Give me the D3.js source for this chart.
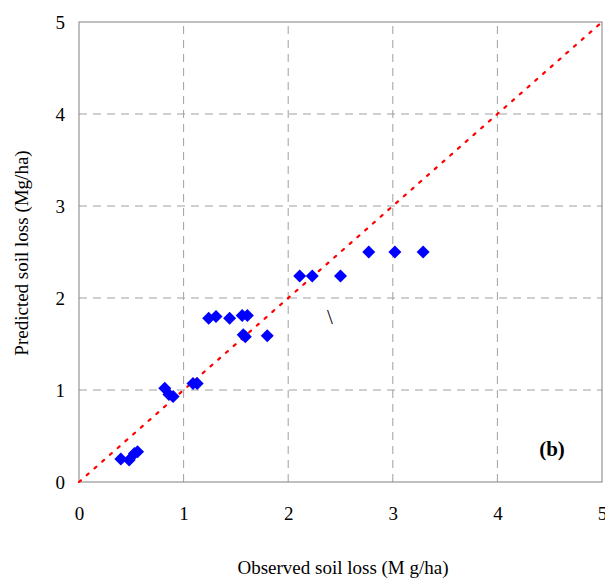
<!DOCTYPE html>
<html><head><meta charset="utf-8">
<script src="https://cdn.jsdelivr.net/npm/d3@7"></script>
<style>body{margin:0;background:#fff}svg{display:block}</style>
</head><body>
<script>
const observed  = [0.40,0.48,0.53,0.56,0.82,0.86,0.90,1.09,1.13,1.24,1.31,1.44,1.56,1.61,1.57,1.59,1.80,2.11,2.23,2.50,2.77,3.02,3.29];
const predicted = [0.25,0.24,0.31,0.33,1.02,0.95,0.93,1.07,1.07,1.78,1.80,1.78,1.81,1.81,1.60,1.58,1.59,2.24,2.24,2.24,2.50,2.50,2.50];
const ticks = [0,1,2,3,4,5];
const lineX = [0,5], lineY = [0,5];

const W=605,H=581;
const svg=d3.select("body").append("svg").attr("width",W).attr("height",H);
const x=d3.scaleLinear().domain([0,5]).range([79,602]);
const y=d3.scaleLinear().domain([0,5]).range([482,22]);
const font='"Liberation Serif","Times New Roman",serif';

// grid
svg.append("g").selectAll("line").data(ticks.slice(1,5)).join("line")
  .attr("x1",d=>x(d)).attr("x2",d=>x(d)).attr("y1",y(0)).attr("y2",y(5))
  .attr("stroke","#a0a0a0").attr("stroke-dasharray","8,6");
svg.append("g").selectAll("line").data(ticks.slice(1,5)).join("line")
  .attr("y1",d=>y(d)).attr("y2",d=>y(d)).attr("x1",x(0)).attr("x2",x(5))
  .attr("stroke","#a0a0a0").attr("stroke-dasharray","8,6");
// frame
svg.append("rect").attr("x",x(0)).attr("y",y(5)).attr("width",x(5)-x(0)).attr("height",y(0)-y(5))
  .attr("fill","none").attr("stroke","#808080").attr("stroke-width",1);

// axes (labels only)
const xa=d3.axisBottom(x).tickValues(ticks).tickSize(0).tickPadding(0).tickFormat(d3.format("d"));
const gx=svg.append("g").attr("transform",`translate(0,${y(0)})`).call(xa);
gx.select(".domain").remove();
gx.selectAll("text").attr("font-family",font).attr("font-size",19).attr("fill","#000").attr("dy",0).attr("y",38);
const ya=d3.axisLeft(y).tickValues(ticks).tickSize(0).tickPadding(14).tickFormat(d3.format("d"));
const gy=svg.append("g").attr("transform",`translate(${x(0)},0)`).call(ya);
gy.select(".domain").remove();
gy.selectAll("text").attr("font-family",font).attr("font-size",19).attr("fill","#000");

// 1:1 line
svg.append("line").attr("x1",x(lineX[0])).attr("y1",y(lineY[0])).attr("x2",x(lineX[1])).attr("y2",y(lineY[1]))
  .attr("stroke","#ff0000").attr("stroke-width",2.2).attr("stroke-dasharray","2.5,7.8").attr("stroke-linecap","round");

// points
const r=6.5;
svg.append("g").selectAll("path").data(observed.map((o,i)=>[o,predicted[i]])).join("path")
  .attr("d",d=>`M${x(d[0])},${y(d[1])-r}L${x(d[0])+r},${y(d[1])}L${x(d[0])},${y(d[1])+r}L${x(d[0])-r},${y(d[1])}Z`)
  .attr("fill","#0000ff");

// stray mark
svg.append("text").attr("x",330).attr("y",324).attr("text-anchor","middle").attr("font-family",font).attr("font-size",21).text("\\");

svg.append("text").attr("x",552).attr("y",456).attr("text-anchor","middle").attr("font-family",font).attr("font-size",21).attr("font-weight","bold").text("(b)");

svg.append("text").attr("x",343).attr("y",574).attr("text-anchor","middle").attr("font-family",font).attr("font-size",19).text("Observed soil loss (M g/ha)");
svg.append("text").attr("transform","translate(28,253) rotate(-90)").attr("text-anchor","middle").attr("font-family",font).attr("font-size",19).text("Predicted soil loss (Mg/ha)");
</script>
</body></html>
